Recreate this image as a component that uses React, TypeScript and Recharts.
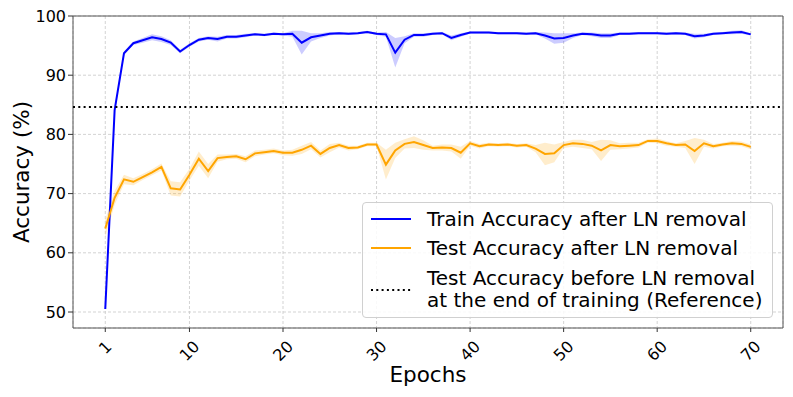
import React from 'react';
import {
  ComposedChart,
  Line,
  Area,
  XAxis,
  YAxis,
  CartesianGrid,
  ReferenceLine,
  ReferenceArea,
  Legend,
} from 'recharts';

const epochs = [
  1, 2, 3, 4, 5, 6, 7, 8, 9, 10, 11, 12, 13, 14, 15, 16, 17, 18, 19, 20,
  21, 22, 23, 24, 25, 26, 27, 28, 29, 30, 31, 32, 33, 34, 35, 36, 37, 38, 39, 40,
  41, 42, 43, 44, 45, 46, 47, 48, 49, 50, 51, 52, 53, 54, 55, 56, 57, 58, 59, 60,
  61, 62, 63, 64, 65, 66, 67, 68, 69, 70,
];

const trainAcc = [
  50.5, 84.1, 93.7, 95.4, 95.9, 96.4, 96.1, 95.5, 94.0, 95.1,
  96.0, 96.3, 96.1, 96.5, 96.5, 96.7, 96.9, 96.8, 97.0, 96.9,
  97.0, 95.5, 96.4, 96.7, 97.0, 97.1, 97.0, 97.1, 97.3, 97.0,
  96.9, 93.8, 96.0, 96.8, 96.8, 97.0, 97.1, 96.3, 96.8, 97.2,
  97.2, 97.2, 97.1, 97.1, 97.1, 97.0, 97.1, 96.7, 96.2, 96.3,
  96.7, 97.0, 96.9, 96.7, 96.7, 97.0, 97.0, 97.1, 97.1, 97.1,
  97.0, 97.1, 97.0, 96.6, 96.7, 97.0, 97.1, 97.2, 97.3, 96.9,
];

const trainSpread = [
  0.3, 0.5, 0.3, 0.3, 0.4, 0.5, 0.5, 0.4, 0.3, 0.3,
  0.3, 0.3, 0.4, 0.3, 0.3, 0.3, 0.2, 0.2, 0.2, 0.2,
  0.5, 2.0, 0.7, 0.4, 0.3, 0.2, 0.2, 0.2, 0.2, 0.2,
  0.4, 2.5, 0.6, 0.3, 0.3, 0.2, 0.2, 0.4, 0.3, 0.2,
  0.2, 0.2, 0.2, 0.2, 0.2, 0.2, 0.2, 0.5, 0.9, 0.8,
  0.4, 0.2, 0.3, 0.4, 0.4, 0.2, 0.2, 0.2, 0.2, 0.2,
  0.2, 0.2, 0.2, 0.4, 0.3, 0.2, 0.2, 0.3, 0.3, 0.2,
];

const testAcc = [
  64.1, 69.3, 72.4, 72.0, 72.8, 73.6, 74.5, 70.9, 70.7, 73.2,
  75.9, 73.8, 76.0, 76.2, 76.3, 75.8, 76.8, 77.0, 77.2, 76.9,
  76.9, 77.4, 78.1, 76.7, 77.7, 78.2, 77.7, 77.8, 78.3, 78.3,
  74.9, 77.3, 78.4, 78.7, 78.2, 77.7, 77.8, 77.7, 76.9, 78.5,
  78.0, 78.3, 78.2, 78.3, 78.1, 78.2, 77.6, 76.7, 76.8, 78.2,
  78.5, 78.4, 78.1, 77.3, 78.2, 78.0, 78.1, 78.2, 78.9, 78.9,
  78.5, 78.2, 78.3, 77.2, 78.5, 78.0, 78.3, 78.5, 78.4, 77.9,
];

const testSpread = [
  1.5, 1.2, 0.8, 0.6, 0.5, 0.5, 0.6, 1.2, 1.2, 1.0,
  1.2, 1.2, 0.6, 0.4, 0.4, 0.5, 0.5, 0.4, 0.4, 0.4,
  0.5, 0.7, 0.6, 0.6, 0.7, 0.4, 0.4, 0.3, 0.3, 0.3,
  2.5, 1.3, 0.8, 1.0, 0.8, 0.4, 0.5, 0.6, 1.0, 0.4,
  0.4, 0.3, 0.3, 0.3, 0.3, 0.3, 0.6, 1.9, 1.5, 0.5,
  0.6, 0.7, 0.6, 1.8, 0.8, 0.5, 0.5, 0.4, 0.3, 0.4,
  0.4, 0.3, 0.6, 2.2, 0.6, 0.4, 0.3, 0.4, 0.4, 0.4,
];

const referenceAcc = 84.64;

const xTicks = [1, 10, 20, 30, 40, 50, 60, 70];
const yTicks = [50, 60, 70, 80, 90, 100];
const xDomain = [-2.45, 73.45];
const yDomain = [47.3, 100];

const legendLabels = [
  'Train Accuracy after LN removal',
  'Test Accuracy after LN removal',
  'Test Accuracy before LN removal',
  'at the end of training (Reference)',
];

const FONT = '"DejaVu Sans", sans-serif';
const BLUE = '#0000ff';
const ORANGE = '#ffa500';

const data = epochs.map((e, i) => ({
  epoch: e,
  train: trainAcc[i],
  trainBand: [trainAcc[i] - trainSpread[i], trainAcc[i] + trainSpread[i]],
  test: testAcc[i],
  testBand: [testAcc[i] - testSpread[i], testAcc[i] + testSpread[i]],
}));

const XTick = (props: any) => {
  const { x, y, payload } = props;
  const label = String(payload.value);
  const ext = (label.length * 9.5 + 11.7) / Math.SQRT2;
  const cy = y + 6 + ext / 2;
  return (
    <text
      x={x}
      y={cy}
      textAnchor="middle"
      dominantBaseline="central"
      transform={`rotate(-45 ${x} ${cy})`}
      fontSize={16}
      fontFamily={FONT}
      fill="#000"
    >
      {label}
    </text>
  );
};

const YLabel = () => (
  <text
    x={21}
    y={172}
    textAnchor="middle"
    dominantBaseline="central"
    transform="rotate(-90 21 172)"
    fontSize={21.5}
    fontFamily={FONT}
    fill="#000"
  >
    Accuracy (%)
  </text>
);

const XLabel = () => (
  <text
    x={428}
    y={382}
    textAnchor="middle"
    fontSize={21.5}
    fontFamily={FONT}
    fill="#000"
  >
    Epochs
  </text>
);

const Handle = ({ color, dotted }: { color: string; dotted?: boolean }) => (
  <svg width={42} height={6} style={{ display: 'block' }}>
    <line
      x1={1}
      y1={3}
      x2={41}
      y2={3}
      stroke={color}
      strokeWidth={2}
      strokeDasharray={dotted ? '2 3.3' : undefined}
    />
  </svg>
);

const LegendBox = () => (
  <div
    style={{
      width: 411,
      height: 116,
      boxSizing: 'border-box',
      border: '1px solid #d0d0d0',
      borderRadius: 4,
      background: 'rgba(255,255,255,0.85)',
      fontFamily: FONT,
      fontSize: 20,
      color: '#000',
      position: 'relative',
    }}
  >
    <div style={{ position: 'absolute', left: 7, top: 12.5 }}>
      <Handle color={BLUE} />
    </div>
    <div style={{ position: 'absolute', left: 64, top: 15.5, lineHeight: '20px', transform: 'translateY(-50%)', whiteSpace: 'nowrap' }}>
      {legendLabels[0]}
    </div>
    <div style={{ position: 'absolute', left: 7, top: 41.5 }}>
      <Handle color={ORANGE} />
    </div>
    <div style={{ position: 'absolute', left: 64, top: 44.5, lineHeight: '20px', transform: 'translateY(-50%)', whiteSpace: 'nowrap' }}>
      {legendLabels[1]}
    </div>
    <div style={{ position: 'absolute', left: 7, top: 84 }}>
      <Handle color="#000" dotted />
    </div>
    <div style={{ position: 'absolute', left: 64, top: 63.5, lineHeight: '22px', whiteSpace: 'nowrap' }}>
      <div>{legendLabels[2]}</div>
      <div>{legendLabels[3]}</div>
    </div>
  </div>
);

export default function App() {
  return (
    <div style={{ position: 'absolute', left: 0, top: 0, width: 793, height: 397, background: '#fff' }}>
      <ComposedChart
        width={793}
        height={397}
        data={data}
        margin={{ top: 16, right: 10, bottom: 0, left: 0 }}
      >
        <CartesianGrid stroke="#c8c8c8" strokeDasharray="3 2" strokeWidth={0.8} />
        <XAxis
          dataKey="epoch"
          type="number"
          domain={xDomain}
          ticks={xTicks}
          allowDataOverflow
          height={69}
          axisLine={false}
          tickLine={{ stroke: '#333', strokeWidth: 1 }}
          tickSize={4}
          tick={<XTick />}
          interval={0}
          label={<XLabel />}
        />
        <YAxis
          type="number"
          domain={yDomain}
          ticks={yTicks}
          allowDataOverflow
          width={73}
          axisLine={false}
          tickLine={{ stroke: '#333', strokeWidth: 1 }}
          tickSize={5}
          tickMargin={2}
          tick={{ fontSize: 16, fontFamily: FONT, fill: '#000' }}
          interval={0}
          label={<YLabel />}
        />
        <Area
          dataKey="trainBand"
          stroke="none"
          fill={BLUE}
          fillOpacity={0.2}
          isAnimationActive={false}
          activeDot={false}
          legendType="none"
        />
        <Area
          dataKey="testBand"
          stroke="none"
          fill={ORANGE}
          fillOpacity={0.2}
          isAnimationActive={false}
          activeDot={false}
          legendType="none"
        />
        <Line
          dataKey="train"
          stroke={BLUE}
          strokeWidth={2}
          dot={false}
          activeDot={false}
          isAnimationActive={false}
        />
        <Line
          dataKey="test"
          stroke={ORANGE}
          strokeWidth={2}
          dot={false}
          activeDot={false}
          isAnimationActive={false}
        />
        <ReferenceLine
          y={referenceAcc}
          stroke="#000"
          strokeWidth={2}
          strokeDasharray="2 3.3"
        />
        <ReferenceArea
          x1={xDomain[0]}
          x2={xDomain[1]}
          y1={yDomain[0]}
          y2={yDomain[1]}
          fill="none"
          stroke="#555"
          strokeWidth={1}
          ifOverflow="visible"
        />
        <Legend
          layout="horizontal"
          verticalAlign="middle"
          align="center"
          content={<LegendBox />}
          wrapperStyle={{ left: 362, top: 202, width: 411, height: 116 }}
        />
      </ComposedChart>
    </div>
  );
}
